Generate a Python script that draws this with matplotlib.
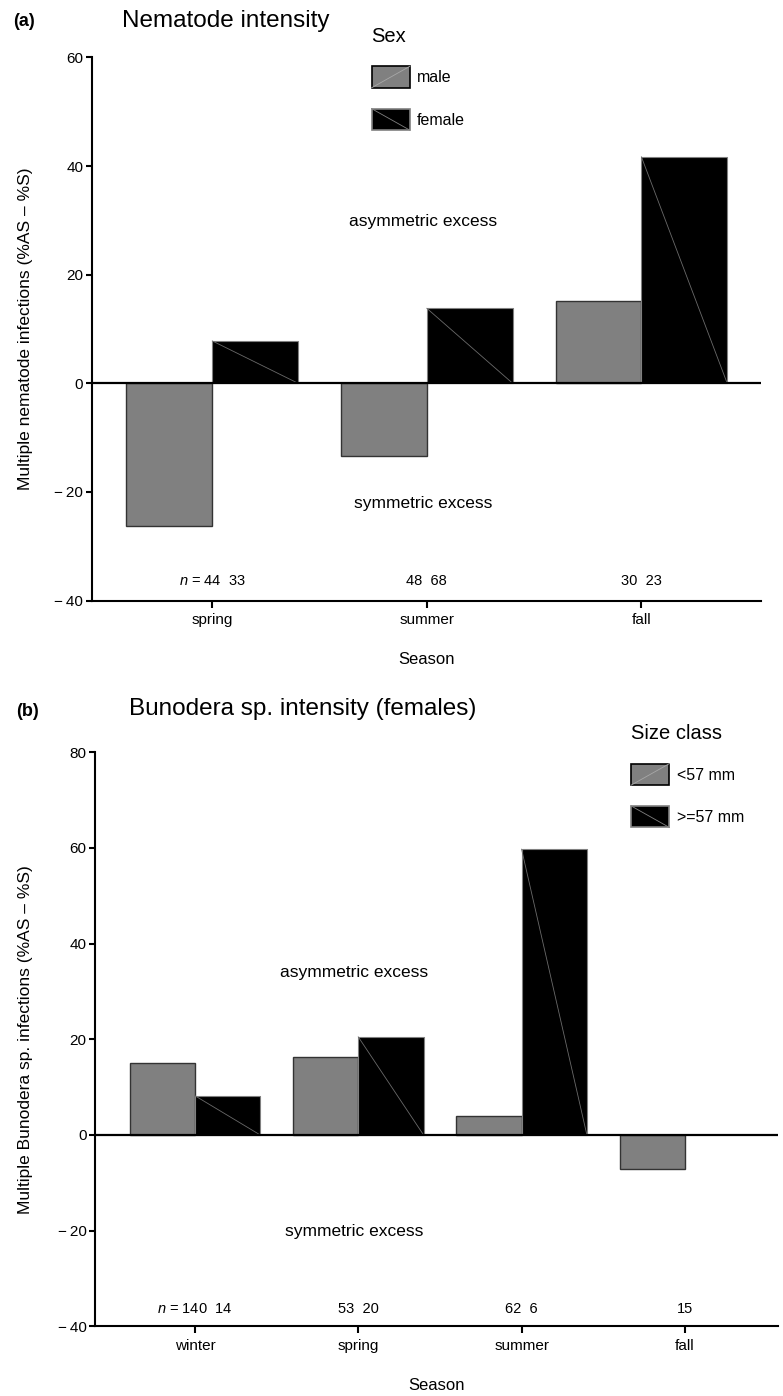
import matplotlib
matplotlib.use('Agg')
import matplotlib.pyplot as plt
import numpy as np
from matplotlib.patches import Rectangle, Patch
from matplotlib.lines import Line2D
from matplotlib.legend_handler import HandlerBase
from matplotlib.ticker import FuncFormatter

plt.rcParams['font.family'] = ['Liberation Sans', 'DejaVu Sans']
plt.rcParams['mathtext.fontset'] = 'custom'
plt.rcParams['mathtext.it'] = 'Liberation Sans:italic'
plt.rcParams['mathtext.rm'] = 'Liberation Sans'

# panel (a): nematode intensity by sex
seasons_a = ['spring', 'summer', 'fall']
male_a = [-26.3, -13.3, 15.2]
female_a = [7.8, 13.8, 41.7]
n_a = ['44  33', '48  68', '30  23']

# panel (b): Bunodera sp. intensity (females) by size class
seasons_b = ['winter', 'spring', 'summer', 'fall']
small_b = [15.1, 16.3, 4.0, -7.2]
large_b = [8.2, 20.5, 59.7, np.nan]
n_b = ['140  14', '53  20', '62  6', '15']

GREY = '#808080'
W = 0.4


class DiagHandler(HandlerBase):
    def __init__(self, fc, ec, lc, rising):
        super().__init__()
        self.fc, self.ec, self.lc, self.rising = fc, ec, lc, rising

    def create_artists(self, legend, orig_handle, xdescent, ydescent,
                       width, height, fontsize, trans):
        x0, y0 = -xdescent, -ydescent
        r = Rectangle((x0, y0), width, height, facecolor=self.fc,
                      edgecolor=self.ec, lw=1.2, transform=trans)
        if self.rising:
            l = Line2D([x0, x0 + width], [y0, y0 + height], color=self.lc,
                       lw=0.6, transform=trans)
        else:
            l = Line2D([x0, x0 + width], [y0 + height, y0], color=self.lc,
                       lw=0.6, transform=trans)
        return [r, l]


def minus_fmt(v, pos):
    if v < 0:
        return '\u2212\u2009%d' % abs(v)
    return '%d' % v


def panel(ax, cats, v1, v2, ns, xlim, ylim, yticks, txt_x, txt_up, txt_dn,
          ylabel):
    x = np.arange(len(cats))
    ax.bar(x - W / 2, v1, W, color=GREY, edgecolor='#333333', lw=1.0, zorder=2)
    bars = ax.bar(x + W / 2, v2, W, color='black', edgecolor=GREY, lw=0.8,
                  zorder=2)
    for b in bars:
        h = b.get_height()
        if np.isnan(h):
            continue
        ax.plot([b.get_x(), b.get_x() + b.get_width()], [h, 0],
                color='#6a6a6a', lw=0.6, zorder=2.5)
    ax.axhline(0, color='black', lw=1.6, zorder=3)
    ax.set_xlim(*xlim)
    ax.set_ylim(*ylim)
    ax.set_yticks(yticks)
    ax.yaxis.set_major_formatter(FuncFormatter(minus_fmt))
    ax.set_xticks(x)
    ax.set_xticklabels(cats)
    for s in ['top', 'right']:
        ax.spines[s].set_visible(False)
    for s in ['left', 'bottom']:
        ax.spines[s].set_linewidth(1.5)
    ax.tick_params(axis='y', direction='out', length=4, width=1.5,
                   labelsize=11, pad=2)
    ax.tick_params(axis='x', direction='out', length=5, width=1.5,
                   labelsize=11, pad=4)
    ax.text(txt_x, txt_up, 'asymmetric excess', ha='center', va='center',
            fontsize=12.5)
    ax.text(txt_x, txt_dn, 'symmetric excess', ha='center', va='center',
            fontsize=12.5)
    for i, s in enumerate(ns):
        lab = ('$n$ = ' if i == 0 else '') + s
        ax.text(x[i], -36.4, lab, ha='center', va='center', fontsize=10.5)
    ax.set_xlabel('Season', fontsize=12)
    ax.set_ylabel(ylabel, fontsize=12.5)


fig = plt.figure(figsize=(7.83, 13.96), dpi=100)
ax1 = fig.add_axes([0.1171, 0.5698, 0.8552, 0.3891])
ax2 = fig.add_axes([0.1213, 0.0498, 0.8723, 0.4115])

panel(ax1, seasons_a, male_a, female_a, n_a, (-0.562, 2.559), (-40, 60),
      [-40, -20, 0, 20, 40, 60], 0.984, 29.8, -22.2,
      'Multiple nematode infections (%AS \u2013 %S)')
panel(ax2, seasons_b, small_b, large_b, n_b, (-0.612, 3.570), (-40, 80),
      [-40, -20, 0, 20, 40, 60, 80], 0.975, 34, -20.2,
      'Multiple Bunodera sp. infections (%AS \u2013 %S)')

ax1.yaxis.set_label_coords(-0.088, 0.5)
ax2.yaxis.set_label_coords(-0.091, 0.5)
ax1.xaxis.set_label_coords(0.5, -0.095)
ax2.xaxis.set_label_coords(0.5, -0.09)

# legends
h1 = [Patch(label='male'), Patch(label='female')]
h2 = [Patch(label='<57 mm'), Patch(label='>=57 mm')]
hm1 = {h1[0]: DiagHandler(GREY, 'black', '#a8a8a8', True),
       h1[1]: DiagHandler('black', GREY, GREY, False)}
hm2 = {h2[0]: DiagHandler(GREY, 'black', '#a8a8a8', True),
       h2[1]: DiagHandler('black', GREY, GREY, False)}
leg_kw = dict(frameon=False, loc='upper left', fontsize=11.5,
              title_fontsize=14.5, handlelength=2.4, handleheight=1.7,
              labelspacing=1.3, handletextpad=0.45, borderpad=0,
              borderaxespad=0, alignment='left',
              bbox_transform=fig.transFigure)
ax1.legend(handles=h1, title='Sex', handler_map=hm1,
           bbox_to_anchor=(0.4745, 0.981), **leg_kw)
ax2.legend(handles=h2, title='Size class', handler_map=hm2,
           bbox_to_anchor=(0.806, 0.4815), **leg_kw)

# panel titles
fig.text(13 / 783, 1 - 26 / 1396, '(a)', fontsize=13, fontweight='bold',
         va='baseline')
fig.text(122 / 783, 1 - 27 / 1396, 'Nematode intensity', fontsize=17.5,
         va='baseline')
fig.text(16 / 783, 1 - 716 / 1396, '(b)', fontsize=13, fontweight='bold',
         va='baseline')
fig.text(129 / 783, 1 - 715 / 1396, 'Bunodera sp. intensity (females)',
         fontsize=17.5, va='baseline')

fig.savefig('out.png', dpi=100)
